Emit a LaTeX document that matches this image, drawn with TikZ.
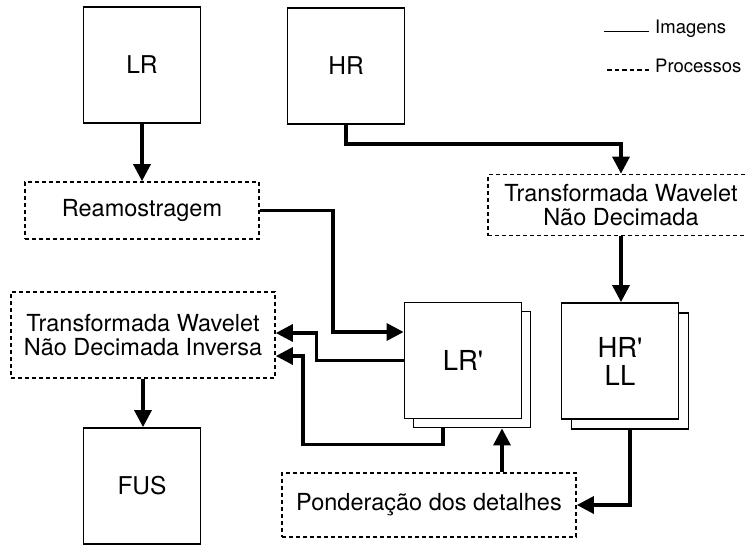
\documentclass[tikz,border=0pt]{standalone}
\usepackage{fontspec}
\setmainfont{TeX Gyre Heros}[Ligatures=TeXOff]
\usepackage{tikz}
\usetikzlibrary{arrows.meta}

\begin{document}
\begin{tikzpicture}[x=1pt, y=1pt,
    img/.style={rectangle, draw, line width=1.8pt, fill=white, minimum width=117pt, minimum height=116pt, inner sep=0pt, align=center, font=\fontsize{24.5}{26}\selectfont},
    imgb/.style={img, font=\fontsize{27.5}{28}\selectfont},
    proc/.style={rectangle, draw, line width=1.7pt, dash pattern=on 4pt off 3pt, inner sep=0pt, align=center, font=\fontsize{23.5}{23.5}\selectfont},
    legtxt/.style={anchor=base west, inner sep=0pt, font=\fontsize{18.5}{20}\selectfont},
    arr/.style={line width=3.3pt, -{Triangle[length=17pt, width=17pt]}}]
    \useasboundingbox (0,0) rectangle (747,-547);

    \node (lr) [img] at (142,-65) {LR};
    \node (hr) [img] at (346,-66) {HR};
    \node (fus) [img] at (142,-486) {FUS};
    \node (ream) [proc, minimum width=234pt, minimum height=57pt] at (142,-210.5) {Reamostragem};
    \node (twnd) [proc, minimum width=266pt, minimum height=61pt] at (621,-205) {Transformada Wavelet\\Não Decimada};
    \node (twndi) [proc, minimum width=264pt, minimum height=86pt] at (143,-335) {Transformada Wavelet\\Não Decimada Inversa};
    \node (pond) [proc, minimum width=294pt, minimum height=64pt] at (429,-505) {Ponderação dos detalhes};
    \node (lrpb) [imgb] at (472,-369.5) {};
    \node (lrp) [imgb] at (463,-360.5) {LR'};
    \node (hrpb) [imgb] at (630,-371) {};
    \node (hrp) [imgb] at (620,-361) {HR'\\LL};

    \node (legimg) [legtxt] at (655,-33) {Imagens};
    \node (legproc) [legtxt] at (655,-72) {Processos};
    \draw [line width=1.8pt] ([xshift=-6pt,yshift=1.5pt]legimg.base west) -- ++(-45,0);
    \draw [line width=1.8pt, dash pattern=on 4.5pt off 3pt] ([xshift=-6pt,yshift=2pt]legproc.base west) -- ++(-45,0);

    \draw [arr] (lr) -- (ream);
    \draw [arr] (hr.south) -- ++(0,-19) -| (twnd.north);
    \draw [arr] (twnd.south) -- (twnd.south |- hrp.north);
    \draw [arr] (ream.east) -- ++(73,0) |- ([yshift=28.5pt]lrp.west);
    \draw [arr] (lrp.west) -- ++(-87,0) |- ([yshift=2pt]twndi.east);
    \draw [arr] ([xshift=-29pt]lrpb.south) -- ++(0,-16) -| ([xshift=27pt,yshift=-21pt]twndi.east) -- ([yshift=-21pt]twndi.east);
    \draw [arr] ([xshift=73pt]pond.north) -- ([xshift=73pt]pond.north |- lrpb.south);
    \draw [arr] (hrpb.south) |- (pond.east);
    \draw [arr] (twndi.south) -- (twndi.south |- fus.north);
\end{tikzpicture}
\end{document}
